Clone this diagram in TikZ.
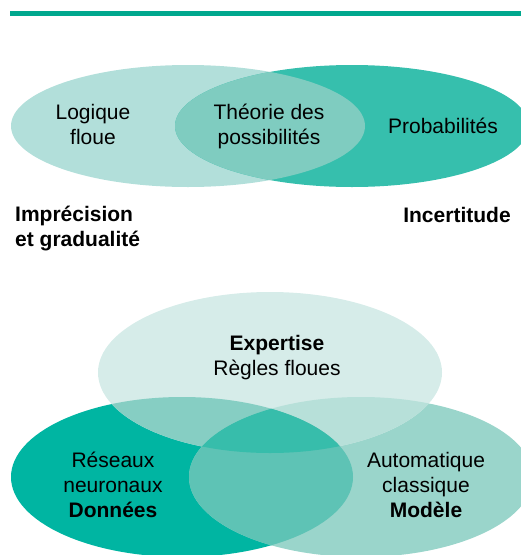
\documentclass[tikz,border=0pt]{standalone}
\usepackage{fontspec}
\setmainfont{Liberation Sans}
\definecolor{barc}{HTML}{00A88E}
\definecolor{topL}{HTML}{B2DFDA}
\definecolor{topR}{HTML}{36BFAD}
\definecolor{topM}{HTML}{7FCCC0}
\definecolor{bT}{HTML}{D6ECE9}
\definecolor{bL}{HTML}{00B5A2}
\definecolor{bR}{HTML}{9AD5CB}
\definecolor{bTL}{HTML}{86CEC3}
\definecolor{bTR}{HTML}{B7E0D9}
\definecolor{bLR}{HTML}{5EC3B5}
\definecolor{bTLR}{HTML}{37BDAB}
\begin{document}
\begin{tikzpicture}[x=1pt,y=-1pt,
  lbl/.style={font=\fontsize{21}{25}\selectfont, inner sep=0pt, align=center, anchor=base},
  blbl/.style={lbl, font=\fontsize{21}{25}\selectfont\bfseries}]
\useasboundingbox (0,0) rectangle (521,555);
% top bar
\fill[barc] (10,11) rectangle (521,16);
% top diagram
\def\eA{(188,126) ellipse [x radius=177, y radius=61]}
\def\eB{(352,126) ellipse [x radius=177, y radius=61]}
\fill[topL] \eA;
\fill[topR] \eB;
\begin{scope}
  \clip \eA;
  \fill[topM] \eB;
\end{scope}
\node[lbl] (logique) at (93,144) {Logique\\floue};
\node[lbl] (theorie) at (269,144) {Théorie des\\possibilités};
\node[lbl] (proba) at (443,133) {Probabilités};
\node[blbl, align=left, anchor=base west] (impr) at (15,246) {Imprécision\\et gradualité};
\node[blbl] (incert) at (457,222) {Incertitude};
% bottom diagram
\def\eT{(270,372.5) ellipse [x radius=172, y radius=80.5]}
\def\eL{(182,477) ellipse [x radius=171, y radius=80]}
\def\eR{(361,477) ellipse [x radius=172, y radius=80]}
\fill[bL] \eL;
\fill[bR] \eR;
\fill[bT] \eT;
\begin{scope}\clip \eT; \fill[bTL] \eL; \end{scope}
\begin{scope}\clip \eT; \fill[bTR] \eR; \end{scope}
\begin{scope}\clip \eL; \fill[bLR] \eR; \end{scope}
\begin{scope}\clip \eT; \clip \eL; \fill[bTLR] \eR; \end{scope}
\node[lbl] (expert) at (277,375) {\textbf{Expertise}\\Règles floues};
\node[lbl] (reseaux) at (113,517) {Réseaux\\neuronaux\\\textbf{Données}};
\node[lbl] (auto) at (426,517) {Automatique\\classique\\\textbf{Modèle}};
\end{tikzpicture}
\end{document}
